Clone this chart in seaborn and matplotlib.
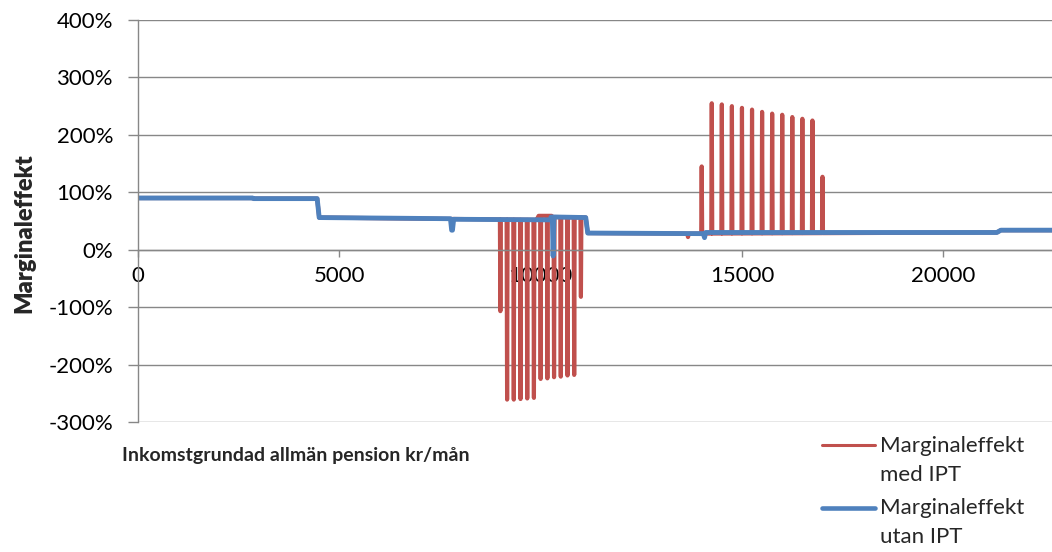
import numpy as np
import pandas as pd
import matplotlib
matplotlib.use("Agg")
import matplotlib.pyplot as plt
from matplotlib.lines import Line2D
import seaborn as sns

# ---------------- data ----------------
# "Marginaleffekt utan IPT" (blue) – line points, kr/mån vs %
utan_x = [0, 2850, 2870, 4450, 4500, 7760, 7790, 7810, 7840, 10230, 10260,
          10290, 10310, 10330, 11120, 11170, 14040, 14070, 14100, 21330, 21430, 22700]
utan_y = [90, 90, 89, 89, 56, 54, 34, 34, 53, 52, 57,
          57, -11, 57, 56, 29, 28, 21, 30, 30, 34, 34]

# "Marginaleffekt med IPT" (red) – base level line points
med_base_x = [0, 2850, 2870, 4450, 4500, 9900, 9950, 10270, 10300, 11120, 11170,
              13640, 13660, 13680, 21330, 21430, 22700]
med_base_y = [90, 90, 89, 89, 56, 52, 59, 59, 57, 56, 29,
              28, 22, 28, 30, 34, 34]

# red spikes (kr/mån, %)
neg_spike_x = [9000, 9167, 9333, 9500, 9667, 9833, 10000, 10167, 10333, 10500, 10667, 10833, 11000]
neg_spike_y = [-107, -261, -261, -260, -259, -258, -225, -224, -222, -221, -219, -218, -82]
pos_spike_x = [14000, 14250, 14500, 14750, 15000, 15250, 15500, 15750, 16000, 16250, 16500, 16750, 17000]
pos_spike_y = [145, 255, 253, 250, 247, 244, 240, 237, 235, 231, 228, 225, 127]

y_ticks = [-300, -200, -100, 0, 100, 200, 300, 400]
x_ticks = [0, 5000, 10000, 15000, 20000]
label_med = ["Marginaleffekt", "med IPT"]
label_utan = ["Marginaleffekt", "utan IPT"]
x_label = "Inkomstgrundad allmän pension kr/mån"
y_label = "Marginaleffekt"

# ---------------- build red series ----------------
spike_x = np.array(neg_spike_x + pos_spike_x, dtype=float)
spike_y = np.array(neg_spike_y + pos_spike_y, dtype=float)
half_w = 12
flank_x = np.concatenate([spike_x - half_w, spike_x + half_w])
flank_y = np.interp(flank_x, med_base_x, med_base_y)
mx = np.concatenate([med_base_x, flank_x, spike_x])
my = np.concatenate([med_base_y, flank_y, spike_y])
order = np.argsort(mx, kind="stable")
df_med = pd.DataFrame({"x": mx[order], "y": my[order]})
df_utan = pd.DataFrame({"x": utan_x, "y": utan_y})

# ---------------- style ----------------
sns.set_theme(style="white")
plt.rcParams["font.family"] = ["Lato", "DejaVu Sans"]
RED = "#C0504D"
BLUE = "#4F81BD"
GRAY = "#878787"

W, H = 1052, 552
fig = plt.figure(figsize=(W / 100, H / 100), dpi=100)
ax = fig.add_axes([138 / W, 1 - 422 / H, (W - 138) / W, (422 - 20) / H])

sns.lineplot(data=df_med, x="x", y="y", ax=ax, color=RED, lw=3.0,
             estimator=None, sort=False, solid_joinstyle="round", solid_capstyle="round")
sns.lineplot(data=df_utan, x="x", y="y", ax=ax, color=BLUE, lw=3.5,
             estimator=None, sort=False, solid_joinstyle="round", solid_capstyle="round")

ax.set_xlim(0, 22700)
ax.set_ylim(-300, 400)
ax.set_yticks(y_ticks)
ax.set_yticklabels([f"{v}%" for v in y_ticks])
ax.set_xticks(x_ticks)
ax.set_xticklabels([str(v) for v in x_ticks])
ax.set_xlabel("")
ax.set_ylabel("")

ax.yaxis.grid(True, color=GRAY, lw=1.0)
ax.xaxis.grid(False)
ax.set_axisbelow(True)

for s in ["top", "right"]:
    ax.spines[s].set_visible(False)
ax.spines["left"].set_color(GRAY)
ax.spines["left"].set_linewidth(1.0)
ax.spines["bottom"].set_color(GRAY)
ax.spines["bottom"].set_linewidth(1.0)
ax.spines["bottom"].set_position(("data", 0))

ax.tick_params(axis="y", direction="out", length=7, width=1, color=GRAY, pad=11,
               labelsize=16, labelcolor="black", left=True)
ax.tick_params(axis="x", direction="out", length=5, width=1, color=GRAY, pad=7,
               labelsize=16, labelcolor="black", bottom=True)

fig.text(24 / W, 1 - 233 / H, y_label, rotation=90, ha="center", va="center",
         fontsize=17, fontweight="heavy")
fig.text(122 / W, 1 - 455 / H, x_label, ha="left", va="center",
         fontsize=14, fontweight="bold")

# legend
fig.add_artist(Line2D([822 / W, 875 / W], [1 - 445 / H] * 2, transform=fig.transFigure,
                      color=RED, lw=2.2, solid_capstyle="round"))
fig.add_artist(Line2D([822 / W, 875 / W], [1 - 508 / H] * 2, transform=fig.transFigure,
                      color=BLUE, lw=3.3, solid_capstyle="round"))
for txt, yy in [(label_med[0], 446), (label_med[1], 475), (label_utan[0], 508), (label_utan[1], 537)]:
    fig.text(880 / W, 1 - yy / H, txt, ha="left", va="center", fontsize=16)

fig.savefig("out.png", dpi=100)
